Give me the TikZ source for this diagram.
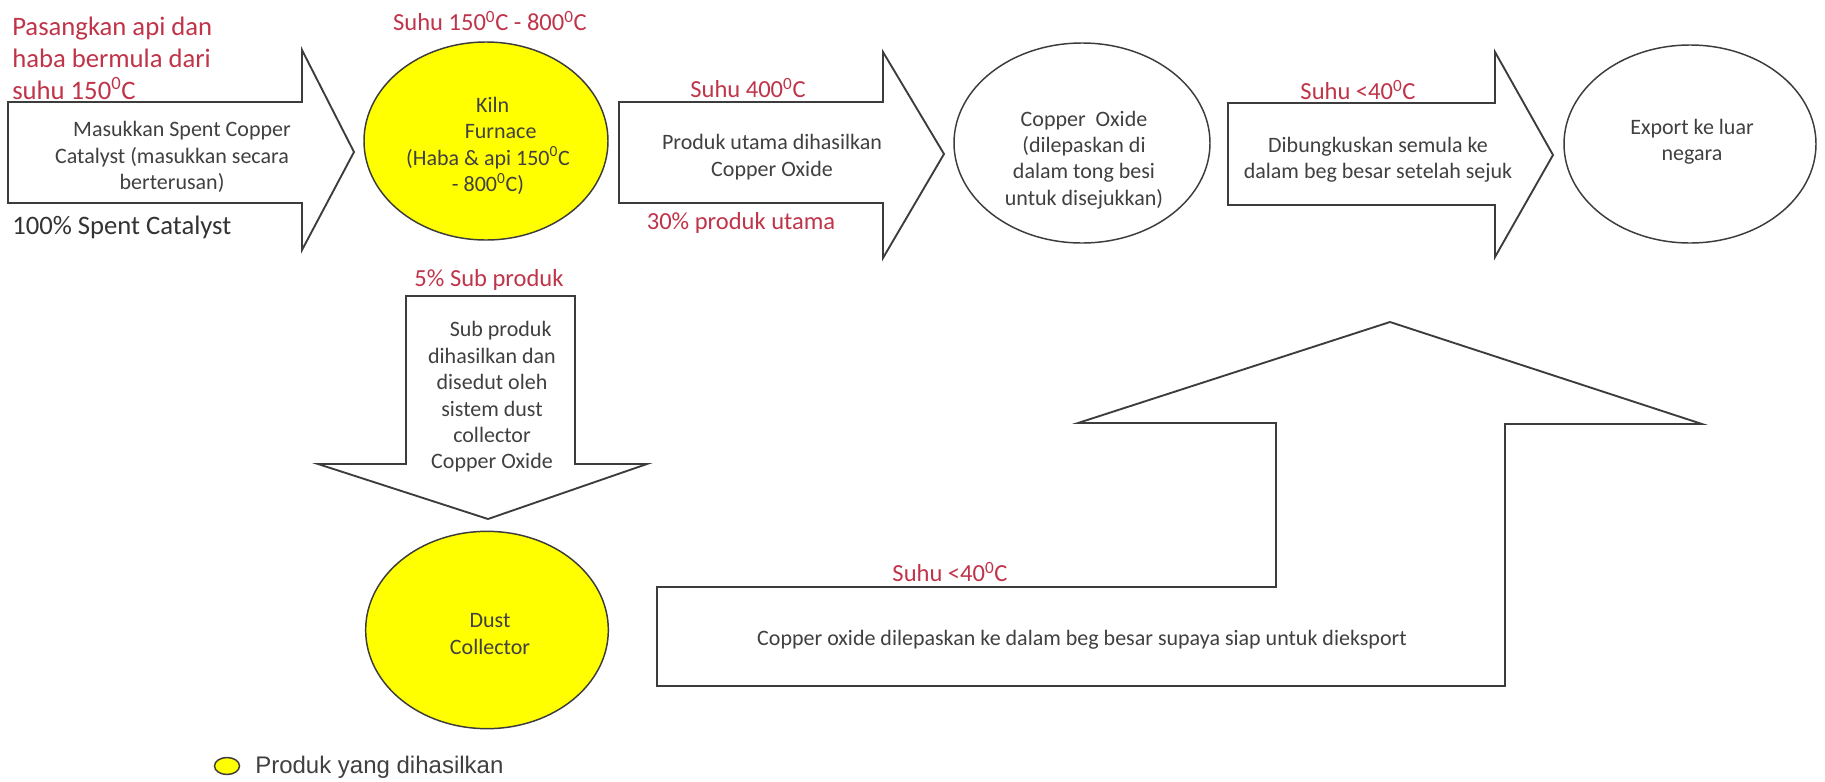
\documentclass[tikz,border=0pt]{standalone}
\usepackage{fontspec}
\setmainfont{Carlito}
\newfontfamily\legendfont{Liberation Sans}
\usetikzlibrary{shapes.geometric}
\definecolor{labelred}{RGB}{192,52,74}
\definecolor{ink}{RGB}{64,64,64}
\definecolor{edge}{RGB}{60,60,60}
\definecolor{hotyellow}{RGB}{255,255,0}
\newcommand{\dg}{\textsuperscript{0}}
\begin{document}
\begin{tikzpicture}[x=0.75pt,y=-0.75pt,
  blockarrow/.style={draw=edge,line width=1.4pt,fill=white,line join=miter},
  stage/.style={ellipse,draw=edge,line width=1.1pt,inner sep=0pt,fill=white},
  product/.style={stage,fill=hotyellow},
  body/.style={text=ink,align=center,inner sep=0pt,font=\fontsize{16.5}{19.8}\selectfont},
  redlabel/.style={text=labelred,inner sep=0pt,font=\fontsize{18.4}{22}\selectfont},
]
\useasboundingbox[fill=white] (0,0) rectangle (1825,782);

% heading note
\node[redlabel,font=\fontsize{20}{24}\selectfont,align=left,anchor=west] (ignite) at (12,58)
  {Pasangkan api dan\\haba bermula dari\\suhu 150\dg C};

% feed arrow
\draw[blockarrow] (8,102) -- (302,102) -- (302,50) -- (354,152) -- (302,250) -- (302,203) -- (8,203) -- cycle;
\node[body] (feedtxt) at (172,157) {\hspace*{15pt}Masukkan Spent Copper\\Catalyst (masukkan secara\\berterusan)};
\node[text=ink!80!black,anchor=west,inner sep=0pt,font=\fontsize{20}{24}\selectfont] (feed) at (12,227) {100\% Spent Catalyst};

% kiln furnace
\node[product,minimum width=183pt,minimum height=148.5pt] (kiln) at (486,141) {};
\node[body] (kilntxt) at (488,146) {\hspace*{7pt}Kiln\\\hspace*{19pt}Furnace\\(Haba \& api 150\dg C\\- 800\dg C)};
\node[redlabel] (kilntemp) at (490,21) {Suhu 150\dg C - 800\dg C};

% main product arrow
\draw[blockarrow] (619,102) -- (883,102) -- (883,52) -- (944,154) -- (883,258) -- (883,203) -- (619,203) -- cycle;
\node[body] (maintxt) at (772,157) {Produk utama dihasilkan\\Copper Oxide};
\node[redlabel] (temp400) at (748,88) {Suhu 400\dg C};
\node[redlabel] (share) at (741,223) {30\% produk utama};

% copper oxide drums
\node[stage,minimum width=192pt,minimum height=150pt] (cuox) at (1082,143) {};
\node[body] (cuoxtxt) at (1084,160) {Copper~ Oxide\\(dilepaskan di\\dalam tong besi\\untuk disejukkan)};

% repacking arrow
\draw[blockarrow] (1228,103) -- (1495,103) -- (1495,52) -- (1553,155) -- (1495,257) -- (1495,205) -- (1228,205) -- cycle;
\node[body] (packtxt) at (1378,160) {Dibungkuskan semula ke\\dalam beg besar setelah sejuk};
\node[redlabel] (coolA) at (1358,90) {Suhu <40\dg C};

% export
\node[stage,minimum width=189pt,minimum height=148.5pt] (export) at (1690,144) {};
\node[body] (exporttxt) at (1692,142) {Export ke luar\\negara};

% by-product arrow
\draw[blockarrow] (406,296) -- (575,296) -- (575,464) -- (647,464) -- (488,519) -- (318,464) -- (406,464) -- cycle;
\node[redlabel] (subshare) at (489,280) {5\% Sub produk};
\node[body] (subtxt) at (492,397) {\hspace*{13pt}Sub produk\\dihasilkan dan\\disedut oleh\\sistem dust\\collector\\Copper Oxide};

% dust collector
\node[product,minimum width=182pt,minimum height=148pt] (dust) at (487,630) {};
\node[body] (dusttxt) at (490,634) {Dust\\Collector};

% bagging arrow
\draw[blockarrow] (657,587) -- (1276,587) -- (1276,423) -- (1078,423) -- (1390,322) -- (1702,424) -- (1505,424) -- (1505,686) -- (657,686) -- cycle;
\node[redlabel] (coolB) at (950,572) {Suhu <40\dg C};
\node[body] (bagtxt) at (1082,640) {Copper oxide dilepaskan ke dalam beg besar supaya siap untuk dieksport};

% legend
\node[product,minimum width=18.75pt,minimum height=12.75pt] (key) at (227,766) {};
\node[anchor=west,inner sep=0pt,text=ink,font=\legendfont\fontsize{18}{21}\selectfont] (keytxt) at (255,767) {Produk yang dihasilkan};
\end{tikzpicture}
\end{document}
